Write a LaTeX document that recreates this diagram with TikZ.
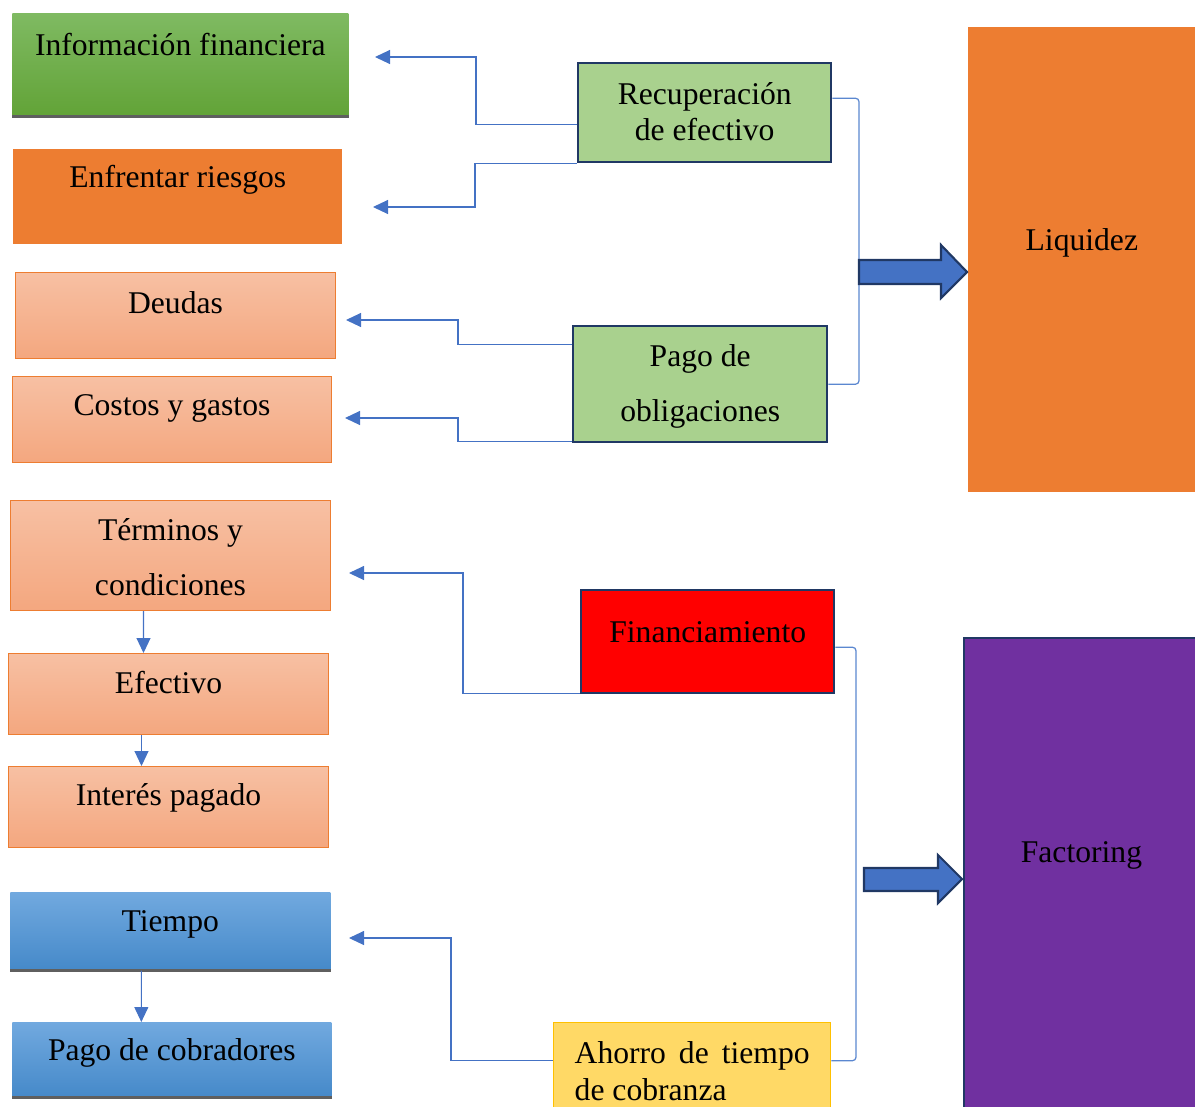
\documentclass[tikz,border=0pt]{standalone}
\usepackage{fontspec}
\setmainfont{Liberation Serif}
\usetikzlibrary{arrows.meta}

\definecolor{verdeA}{RGB}{127,186,98}
\definecolor{verdeB}{RGB}{98,163,55}
\definecolor{naranja}{RGB}{237,125,49}
\definecolor{salmonA}{RGB}{247,192,163}
\definecolor{salmonB}{RGB}{244,167,127}
\definecolor{azulA}{RGB}{113,169,223}
\definecolor{azulB}{RGB}{69,137,201}
\definecolor{verdeclaro}{RGB}{169,209,142}
\definecolor{marino}{RGB}{32,56,100}
\definecolor{amarillo}{RGB}{255,217,102}
\definecolor{oro}{RGB}{255,192,0}
\definecolor{morado}{RGB}{112,48,160}
\definecolor{azulflecha}{RGB}{68,114,196}
\definecolor{linea}{RGB}{91,135,208}
\definecolor{sombra}{RGB}{95,95,95}

\newcommand{\dos}[2]{\begin{tabular}[t]{@{}c@{}}#1\\#2\end{tabular}}

\begin{document}
\begin{tikzpicture}
	[x=0.02cm, y=-0.02cm,
	 caja/.style = {anchor=north west, inner sep=0pt, font=\fontsize{18}{21.6}\selectfont},
	 verde/.style = {caja, top color=verdeA, bottom color=verdeB},
	 salmon/.style = {caja, top color=salmonA, bottom color=salmonB, draw=naranja, line width=0.6pt},
	 azul/.style = {caja, top color=azulA, bottom color=azulB},
	 medio/.style = {caja, draw=marino, line width=1.4pt},
	 conn/.style = {draw=azulflecha, line width=0.6pt, -{Triangle[length=0.3cm,width=0.28cm]}},
	 brk/.style = {draw=linea, line width=0.7pt, rounded corners=2pt},
	 sombreado/.style = {draw=sombra, line width=1.6pt},
	 flecha/.style = {fill=azulflecha, draw=marino, line width=1.2pt}]
	\useasboundingbox (0,0) rectangle (1195,1106);

	\node[verde, minimum width=6.72cm, text height=0.84cm, text depth=1.22cm] (info) at (12,13) {Información financiera};
	\node[caja, fill=naranja, minimum width=6.58cm, text height=0.76cm, text depth=1.14cm] (riesgos) at (13,149) {Enfrentar riesgos};
	\node[salmon, minimum width=6.4cm, text height=0.82cm, text depth=0.9cm] (deudas) at (15,272) {Deudas};
	\node[salmon, minimum width=6.38cm, text height=0.78cm, text depth=0.94cm] (costos) at (12,376) {Costos y gastos};
	\node[salmon, font=\fontsize{18}{31.3}\selectfont, minimum width=6.4cm, text height=0.8cm, text depth=1.4cm] (terminos) at (10,500) {\dos{Términos y}{condiciones}};
	\node[salmon, minimum width=6.4cm, text height=0.8cm, text depth=0.82cm] (efectivo) at (8,653) {Efectivo};
	\node[salmon, minimum width=6.4cm, text height=0.78cm, text depth=0.84cm] (interes) at (8,766) {Interés pagado};
	\node[azul, minimum width=6.4cm, text height=0.78cm, text depth=0.78cm] (tiempo) at (10,892) {Tiempo};
	\node[azul, minimum width=6.38cm, text height=0.76cm, text depth=0.74cm] (cobradores) at (12,1022) {Pago de cobradores};

	\node[medio, fill=verdeclaro, font=\fontsize{18}{20.5}\selectfont, minimum width=5.06cm, text height=0.82cm, text depth=1.16cm] (recup) at (577,62) {\dos{Recuperación}{de efectivo}};
	\node[medio, fill=verdeclaro, font=\fontsize{18}{31.3}\selectfont, minimum width=5.08cm, text height=0.8cm, text depth=1.52cm] (pago) at (572,325) {\dos{Pago de}{obligaciones}};
	\node[medio, fill=red, minimum width=5.06cm, text height=1.04cm, text depth=1.02cm] (fin) at (580,589) {Financiamiento};
	\node[caja, fill=amarillo, draw=oro, line width=0.8pt, font=\fontsize{18}{21}\selectfont, minimum width=5.54cm, text height=0.82cm, text depth=0.98cm] (ahorro) at (553,1022)
		{\begin{tabular}[t]{@{}l@{}}\makebox[4.7cm][s]{Ahorro de tiempo}\\de cobranza\end{tabular}};

	\node[caja, fill=naranja, minimum width=4.54cm, text height=4.46cm, text depth=4.84cm] (liquidez) at (968,27) {Liquidez};
	\node[caja, fill=morado, draw=marino, line width=1.1pt, minimum width=4.7cm, text height=4.5cm, text depth=5cm] (factoring) at (963,637) {Factoring};

	\draw[sombreado] (info.south west) -- (info.south east);
	\draw[sombreado] (tiempo.south west) -- (tiempo.south east);
	\draw[sombreado] (cobradores.south west) -- (cobradores.south east);

	\coordinate (a1) at (375,57);
	\coordinate (a2) at (373,207);
	\coordinate (a3) at (346,320);
	\coordinate (a4) at (345,418);
	\coordinate (a5) at (349,573);
	\coordinate (a6) at (349,938);

	\draw[conn] ([yshift=-0.23cm]recup.west) -- ++(-101,0) |- (a1);
	\draw[conn] (recup.south west) -- ++(-102,0) |- (a2);
	\draw[conn] ([yshift=0.8cm]pago.west) -- ++(-114,0) |- (a3);
	\draw[conn] ([yshift=0.04cm]pago.south west) -- ++(-114,0) |- (a4);
	\draw[conn] ([yshift=0.02cm]fin.south west) -- ++(-117,0) |- (a5);
	\draw[conn] ([yshift=0.14cm]ahorro.west) -- ++(-102,0) |- (a6);

	\draw[conn] ([xshift=-0.54cm]terminos.south) -- ([xshift=-0.5cm]efectivo.north);
	\draw[conn] ([xshift=-0.54cm]efectivo.south) -- ([xshift=-0.54cm]interes.north);
	\draw[conn] ([xshift=-0.58cm]tiempo.south) -- ([xshift=-0.61cm]cobradores.north);

	\draw[brk] ([yshift=0.29cm]recup.east) -| (859,240) |- (pago.east);
	\draw[brk] ([yshift=-0.11cm]fin.east) -| (856,850) |- ([yshift=0.14cm]ahorro.east);

	\draw[flecha] (859,260) -- (941,260) -- (941,245) -- (967,272) -- (941,298) -- (941,284) -- (859,284) -- cycle;
	\draw[flecha] (864,868) -- (938,868) -- (938,855) -- (962,879) -- (938,903) -- (938,891) -- (864,891) -- cycle;
\end{tikzpicture}
\end{document}
